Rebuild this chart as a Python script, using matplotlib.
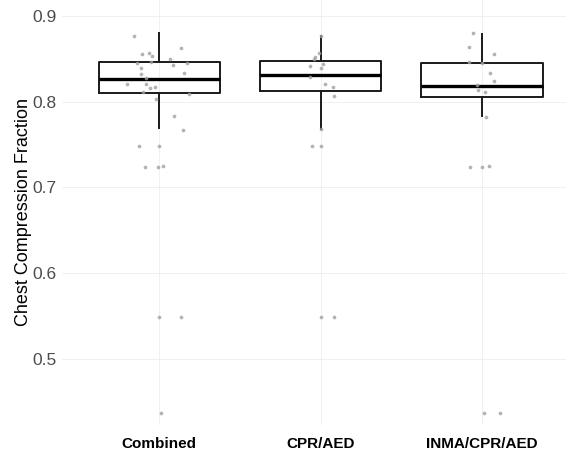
import matplotlib

matplotlib.use("Agg")
import matplotlib.pyplot as plt

plt.rcParams["font.family"] = ["Liberation Sans", "DejaVu Sans"]

# Groups and box statistics
groups = ["Combined", "CPR/AED", "INMA/CPR/AED"]
q1 = [0.8103, 0.8123, 0.8049]
med = [0.8260, 0.8310, 0.8181]
q3 = [0.8460, 0.8474, 0.8454]
whis_lo = [0.7687, 0.7678, 0.7834]
whis_hi = [0.8800, 0.8770, 0.8789]

# Jittered observations (x position already includes jitter)
comb_x = [0.843, 1.135, 0.892, 0.939, 0.955, 0.865, 0.951, 1.067, 1.085, 1.173,
          0.888, 0.888, 1.157, 0.921, 0.798, 0.919, 0.944, 0.973, 0.899, 1.187,
          0.978, 1.090, 1.146, 0.876, 1.000, 0.910, 0.996, 1.022, 1.000, 1.135,
          1.010]
comb_y = [0.8766, 0.8629, 0.8556, 0.8570, 0.8532, 0.8454, 0.8462, 0.8493, 0.8427, 0.8450,
          0.8388, 0.8322, 0.8337, 0.8271, 0.8205, 0.8201, 0.8154, 0.8166, 0.8115, 0.8088,
          0.8030, 0.7827, 0.7675, 0.7483, 0.7483, 0.7237, 0.7242, 0.7249, 0.5490, 0.5490,
          0.4365]
cpr_x = [1.966, 1.993, 1.957, 1.933, 2.018, 2.000, 1.933, 2.027, 2.074, 2.083,
         1.948, 2.000, 2.000, 2.085, 2.000, 2.000]
cpr_y = [0.8524, 0.8564, 0.8494, 0.8419, 0.8435, 0.8388, 0.8290, 0.8205, 0.8166, 0.8068,
         0.7483, 0.7483, 0.5490, 0.5490, 0.8770, 0.7678]
inma_x = [2.944, 2.917, 3.076, 2.917, 3.052, 3.076, 2.969, 2.975, 3.020, 3.027,
          2.923, 3.000, 3.040, 3.010, 3.110, 3.000]
inma_y = [0.8798, 0.8641, 0.8556, 0.8466, 0.8330, 0.8240, 0.8200, 0.8135, 0.8107, 0.7822,
          0.7238, 0.7238, 0.7250, 0.4365, 0.4365, 0.8454]

y_ticks = [0.5, 0.6, 0.7, 0.8, 0.9]

fig = plt.figure(figsize=(5.66, 4.51), dpi=100)
ax = fig.add_axes([0.11, 0.058, 0.89, 0.942])

stats = [
    dict(label=g, q1=a, med=m, q3=b, whislo=lo, whishi=hi, fliers=[])
    for g, a, m, b, lo, hi in zip(groups, q1, med, q3, whis_lo, whis_hi)
]
ax.bxp(
    stats,
    positions=[1, 2, 3],
    widths=0.75,
    showcaps=False,
    showfliers=False,
    boxprops=dict(color="#1a1a1a", lw=1.4),
    whiskerprops=dict(color="#1a1a1a", lw=1.4),
    medianprops=dict(color="black", lw=2.4),
    zorder=2,
)

for xs, ys in [(comb_x, comb_y), (cpr_x, cpr_y), (inma_x, inma_y)]:
    ax.scatter(xs, ys, s=7, color="#a0a0a0", alpha=0.8, lw=0, zorder=3)

ax.set_xlim(0.4, 3.52)
ax.set_ylim(0.423, 0.9186)
ax.set_xticks([1, 2, 3])
ax.set_xticklabels(groups, fontweight="bold", fontsize=11, color="black")
ax.set_yticks(y_ticks)
ax.set_yticklabels([f"{v:.1f}" for v in y_ticks], fontsize=12.5, color="#4d4d4d")
ax.tick_params(length=0)
ax.tick_params(axis="y", pad=4)
ax.tick_params(axis="x", pad=9)
ax.set_ylabel("Chest Compression Fraction", fontsize=13, color="black", labelpad=0)

ax.grid(True, color="#eeeeee", lw=0.6, zorder=0)
ax.set_axisbelow(True)
for s in ax.spines.values():
    s.set_visible(False)

fig.savefig("out.png", dpi=100)
